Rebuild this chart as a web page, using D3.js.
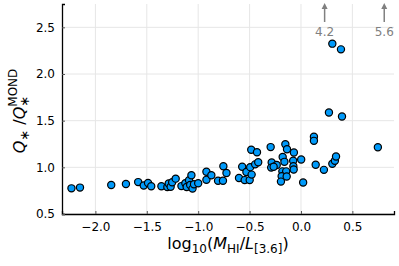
<!DOCTYPE html>
<html>
<head>
<meta charset="utf-8">
<script src="https://cdn.jsdelivr.net/npm/d3@7"></script>
<style>
  body { margin: 0; background: #fff; }
  svg { display: block; font-family: "DejaVu Sans", sans-serif; }
</style>
</head>
<body>
<svg width="399" height="266"></svg>
<script>
// log10(M_HI / L_[3.6]) for each galaxy
var logRatio = [-2.233, -2.150, -1.846, -1.703, -1.584, -1.530, -1.488, -1.457, -1.358, -1.300,
  -1.287, -1.268, -1.253, -1.219, -1.163, -1.125, -1.112, -1.089, -1.066, -1.078,
  -1.055, -1.041, -1.000, -0.920, -0.920, -0.872, -0.807, -0.759, -0.755, -0.725,
  -0.603, -0.572, -0.548, -0.531, -0.499, -0.480, -0.494, -0.446, -0.416, -0.484,
  -0.428, -0.295, -0.285, -0.236, -0.290, -0.266, -0.178, -0.161, -0.152, -0.136,
  -0.069, -0.076, 0.002, -0.074, -0.071, -0.181, -0.144, -0.188, -0.139, -0.195,
  0.021, 0.126, 0.126, 0.143, 0.223, 0.305, 0.330, 0.341, 0.748, 0.272,
  0.399, 0.305, 0.389];
// Q* / Q*^MOND
var qRatio = [0.775, 0.783, 0.810, 0.821, 0.842, 0.805, 0.833, 0.797, 0.797, 0.789,
  0.826, 0.791, 0.840, 0.879, 0.799, 0.829, 0.789, 0.861, 0.915, 0.811,
  0.772, 0.818, 0.829, 0.952, 0.866, 0.915, 0.856, 0.856, 1.011, 0.939,
  0.886, 1.006, 0.863, 0.950, 0.863, 0.922, 1.002, 1.032, 1.054, 1.188,
  1.161, 1.217, 1.051, 1.025, 0.997, 1.006, 1.111, 1.059, 1.247, 1.193,
  1.159, 1.070, 1.084, 1.011, 0.976, 0.957, 0.957, 0.904, 0.901, 0.847,
  0.837, 1.327, 1.284, 1.027, 0.973, 1.038, 1.070, 1.116, 1.215, 1.587,
  1.544, 2.325, 2.264];

// off-scale points drawn as arrows at the top
var outX = [0.23, 0.81];
var outLabels = ["4.2", "5.6"];

var xTicks = [-2.0, -1.5, -1.0, -0.5, 0.0, 0.5];
var yTicks = [0.5, 1.0, 1.5, 2.0, 2.5];

var svg = d3.select("svg");
var pLeft = 62, pRight = 394, pTop = 4, pBottom = 214;

var x = d3.scaleLinear().domain([-2.325, 0.905]).range([pLeft, pRight]);
var y = d3.scaleLinear().domain([0.5, 2.75]).range([pBottom, pTop]);

var fmt = function(v){ return d3.format(".1f")(v).replace("-", "\u2212"); };

// grid
svg.append("g").selectAll("line").data(xTicks).enter().append("line")
  .attr("x1", function(d){ return x(d); }).attr("x2", function(d){ return x(d); })
  .attr("y1", pTop).attr("y2", pBottom)
  .attr("stroke", "#e6e6e6").attr("stroke-width", 1);
svg.append("g").selectAll("line").data(yTicks).enter().append("line")
  .attr("x1", pLeft).attr("x2", pRight)
  .attr("y1", function(d){ return y(d); }).attr("y2", function(d){ return y(d); })
  .attr("stroke", "#e6e6e6").attr("stroke-width", 1);

// axes
var xAxis = svg.append("g").attr("transform", "translate(0," + pBottom + ")")
  .call(d3.axisBottom(x).tickValues(xTicks).tickFormat(fmt).tickSize(-3).tickPadding(8));
var yAxis = svg.append("g").attr("transform", "translate(" + pLeft + ",0)")
  .call(d3.axisLeft(y).tickValues(yTicks).tickFormat(fmt).tickSize(-3).tickPadding(7));
[xAxis, yAxis].forEach(function(a){
  a.select(".domain").attr("stroke", "#000").attr("stroke-width", 1.3);
  a.selectAll(".tick line").attr("stroke", "#555");
  a.selectAll(".tick text").attr("fill", "#000").style("font-size", "12px")
    .style("font-family", "DejaVu Sans, sans-serif");
});

// points
svg.append("g").selectAll("circle")
  .data(logRatio)
  .enter()
  .append("circle")
  .attr("cx", function(d){ return x(d); })
  .attr("cy", function(d, i){ return y(qRatio[i]); })
  .attr("r", 3.6)
  .attr("fill", "#009afa")
  .attr("stroke", "#000")
  .attr("stroke-width", 1.2);

// arrows for points above the range
var arr = svg.append("g").selectAll("g").data(outX).enter().append("g");
arr.append("line")
  .attr("x1", function(d){ return x(d); }).attr("x2", function(d){ return x(d); })
  .attr("y1", 22).attr("y2", 8)
  .attr("stroke", "#808080").attr("stroke-width", 1.5);
arr.append("path")
  .attr("d", function(d){ var cx = x(d); return "M" + (cx - 3) + ",9L" + cx + ",3L" + (cx + 3) + ",9Z"; })
  .attr("fill", "#808080");
arr.append("text")
  .attr("x", function(d){ return x(d); }).attr("y", 36)
  .attr("text-anchor", "middle")
  .attr("fill", "#808080").style("font-size", "12px")
  .text(function(d, i){ return outLabels[i]; });

// x label
var xl = svg.append("text").attr("x", 228).attr("y", 249)
  .attr("text-anchor", "middle").style("font-size", "16px");
xl.append("tspan").text("log");
xl.append("tspan").attr("dy", 4).style("font-size", "12px").text("10");
xl.append("tspan").attr("dy", -4).text("(");
xl.append("tspan").style("font-style", "italic").text("M");
xl.append("tspan").attr("dy", 4).style("font-size", "12px").text("HI");
xl.append("tspan").attr("dy", -4).text("/");
xl.append("tspan").style("font-style", "italic").text("L");
xl.append("tspan").attr("dy", 4).style("font-size", "12px").text("[3.6]");
xl.append("tspan").attr("dy", -4).text(")");

// y label
var yg = svg.append("g").attr("transform", "translate(25," + ((pTop + pBottom) / 2 + 2) + ") rotate(-90)");
var yl = yg.append("text").attr("x", 0).attr("y", 0).style("font-size", "16px");
yl.append("tspan").style("font-style", "italic").text("Q");
yl.append("tspan").attr("dy", 4).style("font-size", "13px").text("\u2217");
yl.append("tspan").attr("dy", -4).text(" /");
yl.append("tspan").style("font-style", "italic").text("Q");
var star = yl.append("tspan").attr("dy", 4).style("font-size", "13px").text("\u2217");
var sw = star.node().getComputedTextLength();
yl.append("tspan").attr("dx", -sw).attr("dy", -12).style("font-size", "12px").text("MOND");
var bw = yl.node().getBBox().width;
yl.attr("x", -bw / 2);
</script>
</body>
</html>
